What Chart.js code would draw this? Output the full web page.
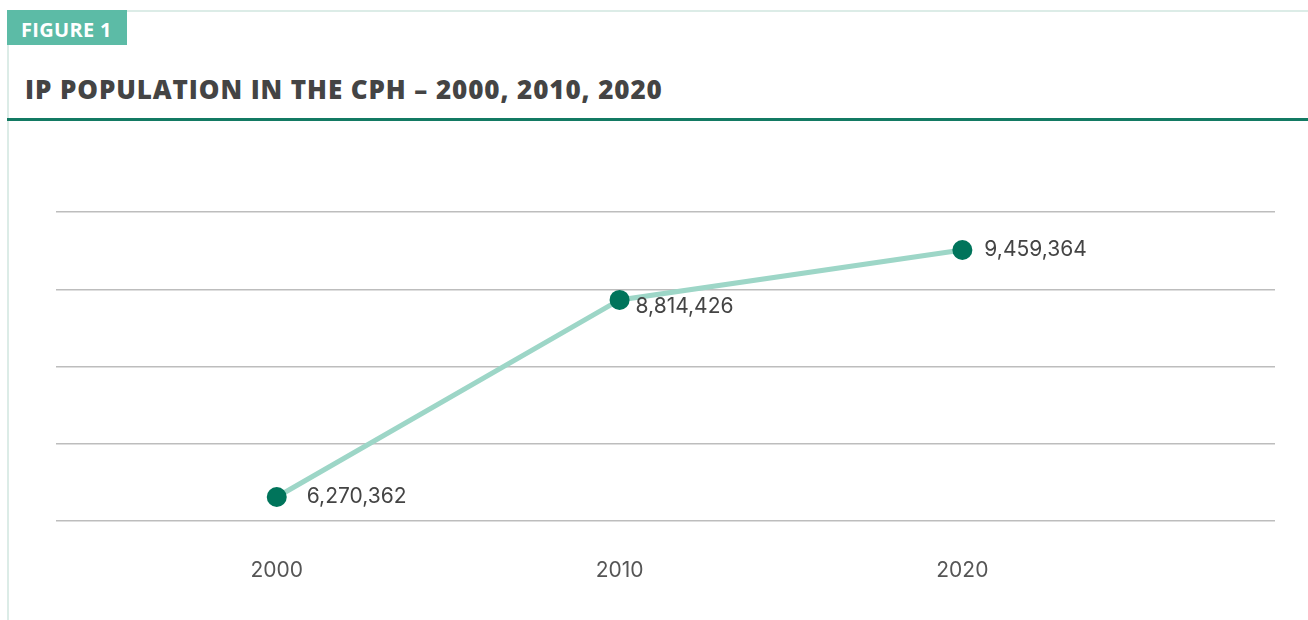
<!DOCTYPE html>
<html>
<head>
<meta charset="utf-8">
<script src="https://cdn.jsdelivr.net/npm/chart.js@4"></script>
<style>
  html, body { margin: 0; padding: 0; background: #ffffff; }
  body { width: 1308px; height: 620px; position: relative; overflow: hidden; }
  .frame-top { position: absolute; left: 7px; top: 10px; width: 1301px; height: 2px; background: #dcece7; }
  .frame-left { position: absolute; left: 7px; top: 10px; width: 2px; height: 610px; background: #dcece7; }
  .badge { position: absolute; left: 7px; top: 10px; width: 120px; height: 35px; background: #5cbba6;
           color: #fff; font-family: "Open Sans", sans-serif; font-weight: 700; font-size: 20px;
           line-height: 35px; padding-left: 14px; padding-top: 2px; box-sizing: border-box; letter-spacing: 0.3px; }
  .title { position: absolute; left: 25px; top: 73px; font-family: "Open Sans", sans-serif; font-weight: 800;
           font-size: 26px; line-height: 32px; color: #444444; letter-spacing: 0.9px; white-space: nowrap; }
  .rule { position: absolute; left: 7px; top: 118px; width: 1301px; height: 3px; background: #137a63; }
  #chart { position: absolute; left: 0; top: 0; }
</style>
</head>
<body>
<div class="frame-top"></div>
<div class="frame-left"></div>
<div class="badge">FIGURE 1</div>
<div class="title">IP POPULATION IN THE CPH – 2000, 2010, 2020</div>
<div class="rule"></div>
<canvas id="chart" width="1308" height="620"></canvas>
<script>
// Census years and IP population counts
const years = [2000, 2010, 2020];
const population = [6270362, 8814426, 9459364];
const yearTicks = [2000, 2010, 2020];

// Vertical range of the plot and number of horizontal guide lines
const yMin = 5960000;
const yMax = 9950000;
const gridLines = 5;

// Label placement around each point (pixels from the point centre)
const labelOffsets = [
  { dx: 30, dy: 0 },
  { dx: 16, dy: 7 },
  { dx: 22, dy: 0 }
];

const valueLabels = {
  id: 'valueLabels',
  afterDatasetsDraw(chart) {
    const ctx = chart.ctx;
    const meta = chart.getDatasetMeta(0);
    ctx.save();
    ctx.font = '400 21px Inter, "Open Sans", sans-serif';
    ctx.fillStyle = '#444444';
    ctx.textAlign = 'left';
    ctx.textBaseline = 'middle';
    meta.data.forEach((pt, i) => {
      const off = labelOffsets[i];
      ctx.fillText(population[i].toLocaleString('en-US'), pt.x + off.dx, pt.y + off.dy);
    });
    ctx.restore();
  }
};

new Chart(document.getElementById('chart'), {
  type: 'line',
  data: {
    datasets: [{
      data: years.map((y, i) => ({ x: y, y: population[i] })),
      borderColor: '#9dd6c7',
      borderWidth: 5,
      pointRadius: 10,
      pointHoverRadius: 10,
      pointBackgroundColor: '#00745b',
      pointBorderWidth: 0,
      tension: 0
    }]
  },
  options: {
    responsive: false,
    animation: false,
    events: [],
    layout: { padding: { left: 56, right: 33, top: 212, bottom: 0 } },
    plugins: { legend: { display: false }, tooltip: { enabled: false } },
    scales: {
      x: {
        type: 'linear',
        min: 1993.56,
        max: 2029.12,
        afterBuildTicks(scale) { scale.ticks = yearTicks.map(v => ({ value: v })); },
        afterFit(scale) { scale.height = 99; },
        grid: { display: false },
        border: { display: false },
        ticks: {
          padding: 29,
          color: '#555555',
          font: { family: 'Inter, "Open Sans", sans-serif', size: 21 },
          callback: v => String(v),
          maxRotation: 0
        }
      },
      y: {
        min: yMin,
        max: yMax,
        afterBuildTicks(scale) {
          const step = (yMax - yMin) / (gridLines - 1);
          scale.ticks = Array.from({ length: gridLines }, (_, i) => ({ value: yMin + i * step }));
        },
        afterFit(scale) { scale.width = 0; },
        border: { display: false },
        grid: { color: '#bdbdbd', lineWidth: 1.5, drawTicks: false },
        ticks: { display: false }
      }
    }
  },
  plugins: [valueLabels]
});
</script>
</body>
</html>
